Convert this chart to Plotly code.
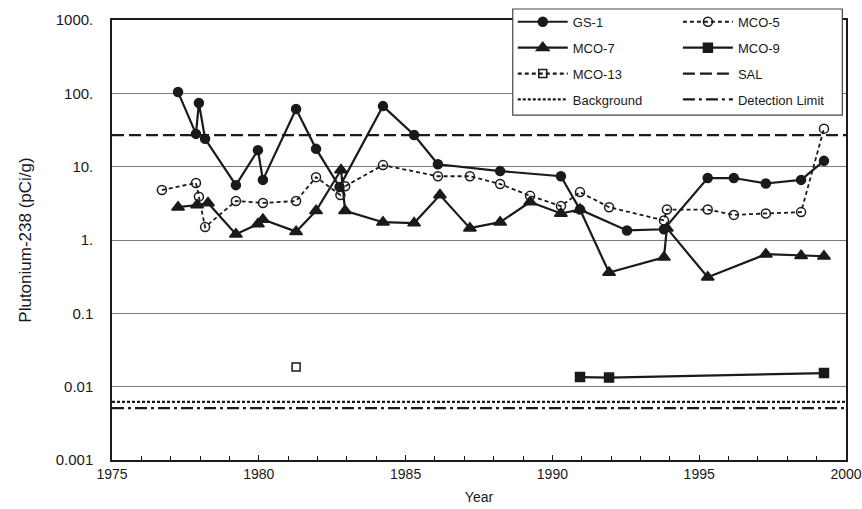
import plotly.graph_objects as go

# Plutonium-238 concentrations (pCi/g) by sampling year
gs1_year = [1977.25, 1977.86, 1977.96, 1978.17, 1979.22, 1979.97, 1980.14, 1981.27,
            1981.95, 1982.75, 1984.23, 1985.29, 1986.1, 1988.22, 1990.29, 1990.94,
            1992.54, 1993.8, 1995.29, 1996.18, 1997.27, 1998.47, 1999.25]
gs1_val = [104, 28, 74, 24, 5.6, 16.8, 6.6, 61,
           17.5, 5.3, 67, 27, 10.8, 8.7, 7.4, 2.6,
           1.35, 1.4, 7.0, 7.0, 5.9, 6.6, 12]

mco5_year = [1976.7, 1977.86, 1977.96, 1978.17, 1979.22, 1980.14, 1981.27, 1981.95,
             1982.78, 1982.94, 1984.23, 1986.1, 1987.19, 1988.22, 1989.24, 1990.29,
             1990.94, 1991.93, 1993.8, 1993.9, 1995.29, 1996.18, 1997.27, 1998.47, 1999.25]
mco5_val = [4.8, 6.0, 3.9, 1.5, 3.4, 3.2, 3.4, 7.2,
            4.1, 5.4, 10.5, 7.4, 7.4, 5.8, 4.0, 2.9,
            4.5, 2.8, 1.85, 2.6, 2.6, 2.2, 2.3, 2.4, 33]

mco7_year = [1977.25, 1977.9, 1978.27, 1979.22, 1979.97, 1980.14, 1981.27, 1981.95,
             1982.8, 1982.94, 1984.23, 1985.29, 1986.17, 1987.19, 1988.22, 1989.24,
             1990.29, 1990.94, 1991.93, 1993.8, 1993.9, 1995.29, 1997.27, 1998.47, 1999.25]
mco7_val = [2.8, 3.0, 3.2, 1.2, 1.65, 1.9, 1.3, 2.5,
            9.0, 2.5, 1.75, 1.7, 4.1, 1.45, 1.75, 3.3,
            2.3, 2.6, 0.36, 0.58, 1.45, 0.31, 0.64, 0.61, 0.6]

mco9_year = [1990.94, 1991.93, 1999.25]
mco9_val = [0.0135, 0.0133, 0.0153]

mco13_year = [1981.27]
mco13_val = [0.0185]

ref_year = [1975, 2000]
sal_val = [27, 27]
background_val = [0.0062, 0.0062]
detection_val = [0.0051, 0.0051]

ytick_vals = [0.001, 0.01, 0.1, 1, 10, 100, 1000]
ytick_text = ["0.001", "0.01", "0.1", "1.", "10.", "100.", "1000."]

FONT = "Arial, Liberation Sans, sans-serif"
INK = "#1a1a1a"

fig = go.Figure()


def add_series(name, x, y, legend, mode, dash, symbol, size=9, width=2.2):
    fig.add_trace(go.Scatter(
        x=x, y=y, name=name, mode=mode,
        line=dict(color=INK, width=width, dash=dash),
        marker=dict(symbol=symbol, size=size, color=INK,
                    line=dict(color=INK, width=1.5)),
        legend=legend, legendgroup=name,
    ))


add_series("GS-1", gs1_year, gs1_val, "legend", "lines+markers", "solid", "circle")
add_series("MCO-7", mco7_year, mco7_val, "legend", "lines+markers", "solid", "triangle-up", size=11)
add_series("MCO-13", mco13_year, mco13_val, "legend", "lines+markers", "4px,3px", "square-open", size=8)
add_series("Background", ref_year, background_val, "legend", "lines", "3px,2px", "circle")
add_series("MCO-5", mco5_year, mco5_val, "legend2", "lines+markers", "4px,3px", "circle-open", width=1.8)
add_series("MCO-9", mco9_year, mco9_val, "legend2", "lines+markers", "solid", "square", size=9)
add_series("SAL", ref_year, sal_val, "legend2", "lines", "12px,5px", "circle")
add_series("Detection Limit", ref_year, detection_val, "legend2", "lines", "12px,4px,3px,4px", "circle")

legend_style = dict(
    font=dict(family=FONT, size=13, color=INK),
    bgcolor="rgba(0,0,0,0)", borderwidth=0,
    yanchor="top", y=1.030, xanchor="left",
    tracegroupgap=6, itemwidth=50,
)

fig.update_layout(
    width=862, height=509,
    margin=dict(l=112, r=16, t=20, b=49, autoexpand=False),
    paper_bgcolor="white", plot_bgcolor="white",
    font=dict(family=FONT, size=14, color=INK),
    showlegend=True,
    legend=dict(x=0.546, **legend_style),
    legend2=dict(x=0.771, **legend_style),
    shapes=[dict(type="rect", xref="paper", yref="paper",
                 x0=0.546, x1=0.995, y0=0.784, y1=1.025,
                 fillcolor="white", line=dict(color="#444", width=1.2),
                 layer="above")],
)

fig.update_xaxes(
    range=[1975, 2000], tickvals=[1975, 1980, 1985, 1990, 1995, 2000],
    ticks="inside", ticklen=5, tickcolor=INK,
    minor=dict(dtick=1, ticks="inside", ticklen=4, tickcolor=INK),
    showgrid=False, zeroline=False, automargin=False,
    showline=True, linecolor=INK, linewidth=1.5, mirror=True,
    tickfont=dict(size=14),
    title=dict(text="Year", font=dict(size=14), standoff=12),
)

fig.update_yaxes(
    type="log", range=[-3, 3], automargin=False,
    tickvals=ytick_vals, ticktext=ytick_text,
    ticks="", ticklabelstandoff=14,
    showgrid=True, gridcolor="#7a7a7a", gridwidth=1.2,
    showline=True, linecolor=INK, linewidth=1.5, mirror=True,
    tickfont=dict(size=15),
    title=dict(text="Plutonium-238 (pCi/g)", font=dict(size=17), standoff=20),
)

# the page's default body margin would shift the 862px figure off the window
fig.write_html("out.html", config={"displayModeBar": False},
               post_script="document.body.style.margin='0';")
